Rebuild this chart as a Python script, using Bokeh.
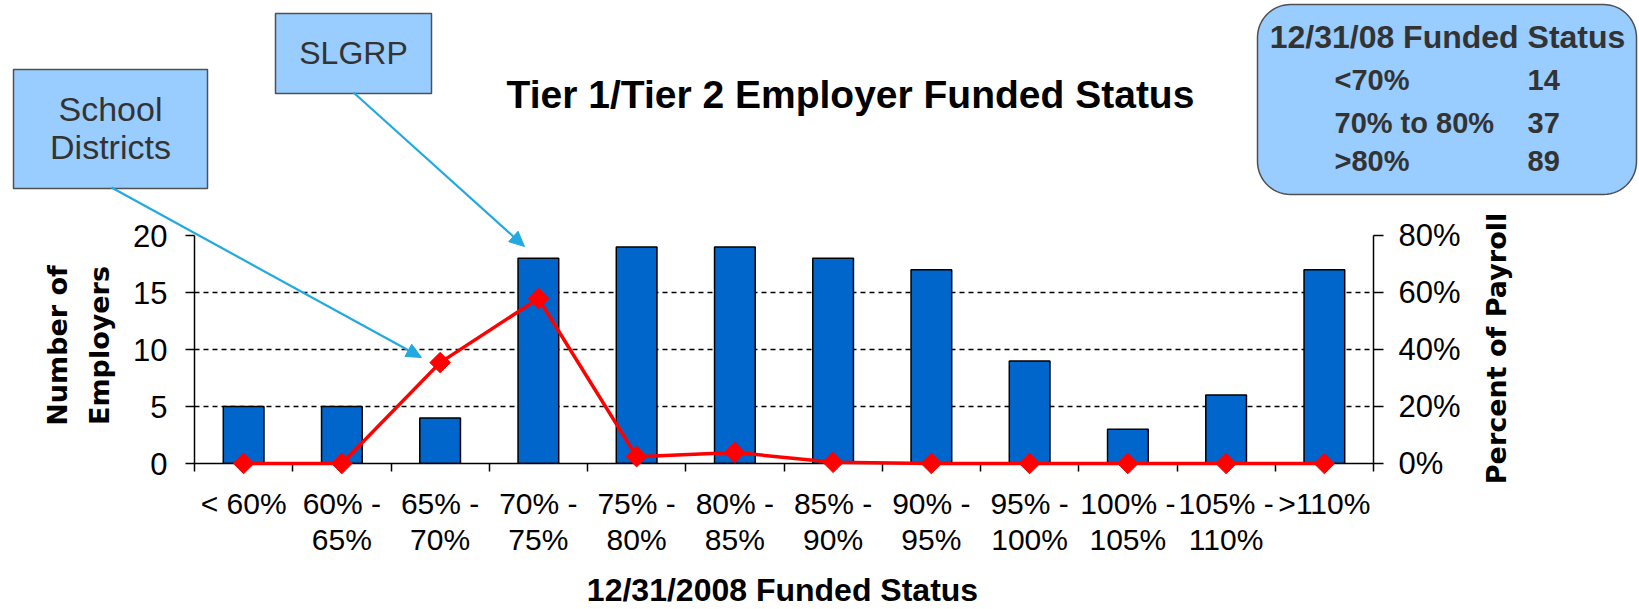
import math
import numpy as np
from bokeh.plotting import figure
from bokeh.models import (Range1d, LinearAxis, FixedTicker, PrintfTickFormatter,
                          ColumnDataSource)
from bokeh.core.properties import value
from bokeh.embed import file_html
from bokeh.resources import INLINE

# ---------------- data ----------------
categories = ["< 60%", "60% -\n65%", "65% -\n70%", "70% -\n75%", "75% -\n80%",
              "80% -\n85%", "85% -\n90%", "90% -\n95%", "95% -\n100%",
              "100% -\n105%", "105% -\n110%", ">110%"]
employers = [5, 5, 4, 18, 19, 19, 18, 17, 9, 3, 6, 17]
payroll_pct = [0, 0, 35.4, 57.9, 2.4, 3.9, 0.4, 0, 0, 0, 0, 0]
left_ticks = [0, 5, 10, 15, 20]
right_ticks = [0, 20, 40, 60, 80]
summary_title = "12/31/08 Funded Status"
summary_labels = ["<70%", "70% to 80%", ">80%"]
summary_counts = [14, 37, 89]
chart_title = "Tier 1/Tier 2 Employer Funded Status"
x_title = "12/31/2008 Funded Status"
left_title = ["Number of", "Employers"]
right_title = "Percent of Payroll"
callout_slgrp = ["SLGRP"]
callout_school = ["School", "Districts"]

# ---------------- styles ----------------
BAR = "#0066CC"
RED = "#FF0000"
BOXFILL = "#99CCFF"
BOXLINE = "#505050"
ARROW = "#22A9E1"
TXT = "#333333"
SANS = "Liberation Sans"
WIDE = "DejaVu Sans"

W, H = 1639, 609
FL, FR, FT, FB = 194, 266, 235, 146          # borders around the plot frame
n = len(categories)
centers = np.arange(n) + 0.5
bounds = np.arange(n + 1)

p = figure(width=W, height=H, output_backend="svg", toolbar_location=None,
           x_range=Range1d(0, n), y_range=Range1d(0, 20),
           min_border_left=FL, min_border_right=FR,
           min_border_top=FT, min_border_bottom=FB)
p.outline_line_color = None
p.background_fill_color = "white"
p.border_fill_color = "white"

# secondary value range + a page-pixel coordinate system for the callouts
p.extra_y_ranges = {"pct": Range1d(0, 80), "px": Range1d(H - FB, FT)}
p.extra_x_ranges = {"px": Range1d(FL, W - FR)}

# grid
p.xgrid.visible = False
p.ygrid.ticker = FixedTicker(ticks=left_ticks[1:])
p.ygrid.grid_line_color = "black"
p.ygrid.grid_line_width = 1.5
p.ygrid.grid_line_dash = "5 4"

# x axis
xa = p.xaxis[0]
xa.ticker = FixedTicker(ticks=list(centers), minor_ticks=list(bounds))
xa.major_label_overrides = {float(c): lab for c, lab in zip(centers, categories)}
xa.major_tick_line_color = None
xa.major_tick_out = 8
xa.major_tick_in = 0
xa.minor_tick_line_color = "black"
xa.minor_tick_line_width = 1.5
xa.minor_tick_out = 8
xa.minor_tick_in = 0
xa.axis_line_width = 1.5
xa.axis_line_color = "black"
xa.major_label_text_font = SANS
xa.major_label_text_font_size = "30px"
xa.major_label_text_color = "black"
xa.major_label_text_line_height = 1.1
xa.major_label_standoff = 15

# left axis
ya = p.yaxis[0]
ya.ticker = FixedTicker(ticks=left_ticks)
ya.axis_line_width = 1.5
ya.axis_line_color = "black"
ya.major_tick_line_width = 1.5
ya.major_tick_out = 9
ya.major_tick_in = 0
ya.minor_tick_line_color = None
ya.major_label_text_font = SANS
ya.major_label_text_font_size = "31px"
ya.major_label_text_color = "black"
ya.major_label_standoff = 18

# right axis
ra = LinearAxis(y_range_name="pct", ticker=FixedTicker(ticks=right_ticks),
                formatter=PrintfTickFormatter(format="%d%%"))
ra.axis_line_width = 1.5
ra.axis_line_color = "black"
ra.major_tick_line_width = 1.5
ra.major_tick_out = 10
ra.major_tick_in = 0
ra.minor_tick_line_color = None
ra.major_label_text_font = SANS
ra.major_label_text_font_size = "31px"
ra.major_label_text_color = "black"
ra.major_label_standoff = 15
p.add_layout(ra, "right")

# ---------------- data glyphs ----------------
src = ColumnDataSource(dict(x=centers, cat=categories, emp=employers, pct=payroll_pct))
p.vbar(x="x", top="emp", bottom=0, width=0.414, source=src,
       fill_color=BAR, line_color="black", line_width=1.5)
p.line(x="x", y="pct", source=src, y_range_name="pct",
       line_color=RED, line_width=3.5, level="overlay")
p.scatter(x="x", y="pct", source=src, y_range_name="pct", marker="square",
          angle=math.pi / 4, size=14.5, fill_color=RED, line_color=RED, level="overlay")

# ---------------- callouts and titles (page-pixel coordinates) ----------------
PX = dict(x_range_name="px", y_range_name="px", level="overlay")

def box(l, r, t, b):
    p.quad(left=[l], right=[r], top=[t], bottom=[b], fill_color=BOXFILL,
           line_color=BOXLINE, line_width=1.5, **PX)

def round_box(l, r, t, b, rad):
    xs, ys = [], []
    corners = [(r - rad, t + rad, -90, 0), (r - rad, b - rad, 0, 90),
               (l + rad, b - rad, 90, 180), (l + rad, t + rad, 180, 270)]
    for cx, cy, a0, a1 in corners:
        a = np.radians(np.linspace(a0, a1, 16))
        xs.extend(cx + rad * np.cos(a))
        ys.extend(cy + rad * np.sin(a))
    p.patch(xs, ys, fill_color=BOXFILL, line_color=BOXLINE, line_width=1.5, **PX)

def txt(s, x, y, size, style="normal", color=TXT, align="center", font=SANS, angle=0.0):
    p.text(x=[x], y=[y], text=[s], text_font=value(font), text_font_size=value(size),
           text_font_style=style, text_color=color, text_align=align,
           text_baseline="middle", angle=angle, **PX)

def arrow(xs, ys, xe, ye, head=15, half=7):
    d = np.array([xe - xs, ye - ys], dtype=float)
    d /= np.hypot(*d)
    nrm = np.array([-d[1], d[0]])
    base = np.array([xe, ye]) - head * d
    p.segment(x0=[xs], y0=[ys], x1=[base[0]], y1=[base[1]],
              line_color=ARROW, line_width=2.2, **PX)
    pts = [np.array([xe, ye]), base + half * nrm, base - half * nrm]
    p.patch([q[0] for q in pts], [q[1] for q in pts], fill_color=ARROW,
            line_color=ARROW, line_width=1, **PX)

box(275, 431, 13, 93)
box(13, 207, 69, 188)
round_box(1257, 1636, 4, 194, 33)

arrow(353, 92, 524, 246)
arrow(111, 187, 421, 357)

txt(callout_slgrp[0], 353, 52, "32px")
txt(callout_school[0], 110, 108, "34px")
txt(callout_school[1], 110, 146, "34px")
txt(chart_title, 850, 94, "39px", style="bold", color="black")

# axis titles
txt(x_title, 782, 589, "32px", style="bold", color="black")
txt(left_title[0], 57, 345, "27px", style="bold", color="black", font=WIDE,
    angle=math.pi / 2)
txt(left_title[1], 99, 345, "27px", style="bold", color="black", font=WIDE,
    angle=math.pi / 2)
txt(right_title, 1496, 348, "27px", style="bold", color="black", font=WIDE,
    angle=math.pi / 2)

# summary box
txt(summary_title, 1447, 36, "32px", style="bold")
row_y = [79, 122, 160]
for lab, cnt, yy in zip(summary_labels, summary_counts, row_y):
    txt(lab, 1334, yy, "29px", style="bold", align="left")
    txt(str(cnt), 1527, yy, "29px", style="bold", align="left")

open("out.html", "w").write(file_html(p, INLINE))
